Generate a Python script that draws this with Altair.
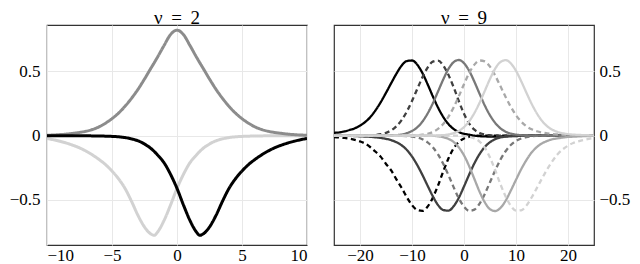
import altair as alt
import pandas as pd

# ---------------- left panel (nu = 2) ----------------
X_LEFT = [-10, -9.5, -9, -8.5, -8, -7.5, -7, -6.5, -6, -5.5, -5, -4.5, -4, -3.5, -3, -2.5, -2,
          -1.75, -1.5, -1, -0.5, 0, 0.5, 1, 1.5, 1.75,
          2, 2.5, 3, 3.5, 4, 4.5, 5, 5.5, 6, 6.5, 7, 7.5, 8, 8.5, 9, 9.5, 10]

LEFT_LIGHT = [-0.022, -0.032, -0.044, -0.058, -0.075, -0.095, -0.12, -0.15, -0.185, -0.225, -0.275,
              -0.335, -0.41, -0.51, -0.62, -0.71, -0.765, -0.775, -0.75, -0.66, -0.54, -0.41, -0.30,
              -0.21, -0.15, -0.123, -0.10, -0.065, -0.04, -0.025, -0.015, -0.009, -0.006, -0.004,
              -0.003, -0.002, -0.001, -0.001, 0.0, 0.0, 0.0, 0.0, 0.0]
LEFT_GRAY = [0.003, 0.005, 0.008, 0.012, 0.018, 0.025, 0.034, 0.048, 0.068, 0.097, 0.132, 0.175,
             0.228, 0.29, 0.36, 0.44, 0.525, 0.567, 0.61, 0.70, 0.785, 0.82, 0.785, 0.70, 0.61,
             0.567, 0.525, 0.44, 0.36, 0.29, 0.228, 0.175, 0.132, 0.097, 0.068, 0.048, 0.034,
             0.025, 0.018, 0.012, 0.008, 0.005, 0.003]
LEFT_BLACK = [0.0, 0.0, 0.0, 0.0, 0.0, -0.001, -0.001, -0.002, -0.003, -0.004, -0.006, -0.009,
              -0.015, -0.025, -0.04, -0.065, -0.10, -0.123, -0.15, -0.21, -0.30, -0.41, -0.54,
              -0.66, -0.75, -0.775, -0.765, -0.71, -0.62, -0.51, -0.41, -0.335, -0.275, -0.225,
              -0.185, -0.15, -0.12, -0.095, -0.075, -0.058, -0.044, -0.032, -0.022]

LEFT_SERIES = [LEFT_LIGHT, LEFT_GRAY, LEFT_BLACK]
LEFT_COLORS = ["#d2d2d2", "#8c8c8c", "#000000"]
LEFT_STYLES = ["solid", "solid", "solid"]

# ---------------- right panel (nu = 9) ----------------
X_RIGHT = list(range(-25, 26))

R_K_POS = [0.022, 0.025, 0.033, 0.044, 0.057, 0.078, 0.106, 0.145, 0.198, 0.261, 0.333, 0.408,
           0.481, 0.544, 0.580, 0.584, 0.552, 0.487, 0.400, 0.306, 0.219, 0.146, 0.090, 0.052,
           0.028, 0.014, 0.007, 0.0, -0.004, -0.006, -0.007, -0.007, -0.006, -0.005, -0.004,
           -0.003, -0.002, -0.002, -0.001, 0, 0, 0, 0, 0, 0, 0, 0, 0, 0, 0, 0]
R_K_NEG = [-0.011, -0.014, -0.018, -0.024, -0.033, -0.045, -0.062, -0.09, -0.125, -0.165, -0.22,
           -0.27, -0.34, -0.405, -0.478, -0.54, -0.578, -0.585, -0.552, -0.482, -0.388, -0.279,
           -0.178, -0.099, -0.049, -0.022, -0.009, -0.004, -0.001,
           0, 0, 0, 0, 0, 0, 0, 0, 0, 0, 0, 0, 0, 0, 0, 0, 0, 0, 0, 0, 0, 0]
R_D_POS = [0, 0, 0, 0, 0, 0, 0.001, 0.002, 0.005, 0.011, 0.022, 0.041, 0.073, 0.121, 0.187, 0.270,
           0.362, 0.453, 0.529, 0.575, 0.583, 0.546, 0.473, 0.377, 0.269, 0.170, 0.094, 0.046,
           0.021, 0.008, 0.003, 0, 0, 0, 0, 0, 0, 0, 0, 0, 0, 0, 0, 0, 0, 0, 0, 0, 0, 0, 0]
R_D_NEG = [0, -0.001, -0.002, -0.002, -0.003, -0.005, -0.007, -0.009, -0.013, -0.018, -0.025,
           -0.035, -0.051, -0.075, -0.111, -0.162, -0.228, -0.305, -0.389, -0.471, -0.539, -0.578,
           -0.583, -0.549, -0.483, -0.395, -0.302, -0.215, -0.143, -0.088, -0.051, -0.027, -0.014,
           -0.007, -0.003, -0.001, 0, 0, 0, 0, 0, 0, 0, 0, 0, 0, 0, 0, 0, 0, 0]
R_G_POS = [0, 0, 0, 0, 0, 0, 0, 0, 0, 0, 0.0, 0.002, 0.004, 0.008, 0.019, 0.036, 0.064, 0.109,
           0.172, 0.251, 0.343, 0.436, 0.518, 0.571, 0.588, 0.563, 0.504, 0.419, 0.325, 0.234,
           0.158, 0.099, 0.057, 0.031, 0.016, 0.008, 0.003, 0.001,
           0, 0, 0, 0, 0, 0, 0, 0, 0, 0, 0, 0, 0]
R_G_NEG = [0, 0, 0, 0, 0, 0, 0, 0, 0, 0, 0, 0, 0, -0.001, -0.003, -0.007, -0.014, -0.028, -0.052,
           -0.090, -0.146, -0.219, -0.306, -0.400, -0.487, -0.552, -0.584, -0.575, -0.529, -0.453,
           -0.362, -0.270, -0.187, -0.121, -0.073, -0.041, -0.022, -0.011, -0.005, -0.002, 0.0,
           0, 0, 0, 0, 0, 0, 0, 0, 0, 0]
R_L_POS = [0, 0, 0, 0, 0, 0, 0, 0, 0, 0, 0, 0, 0, 0, 0, 0.001, 0.003, 0.007, 0.014, 0.028, 0.052,
           0.090, 0.146, 0.219, 0.306, 0.400, 0.487, 0.552, 0.584, 0.577, 0.536, 0.467, 0.385,
           0.301, 0.224, 0.159, 0.109, 0.073, 0.050, 0.034, 0.024, 0.018, 0.013, 0.009, 0.007,
           0.005, 0.003, 0.002, 0.001, 0.001, 0.0]
R_L_NEG = [0, 0, 0, 0, 0, 0, 0, 0, 0, 0, 0, 0, 0, 0, 0, 0, 0, 0, 0, -0.001, -0.005, -0.012,
           -0.025, -0.049, -0.091, -0.153, -0.238, -0.337, -0.436, -0.518, -0.572, -0.586, -0.562,
           -0.506, -0.427, -0.343, -0.261, -0.190, -0.131, -0.089, -0.060, -0.041, -0.028, -0.021,
           -0.015, -0.010, -0.008, -0.006, -0.004, -0.003, -0.002]
R_W_POS = [0, 0, 0, 0, 0, 0, 0, 0, 0, 0, 0, 0, 0, 0, 0, 0, 0, 0, 0, 0, 0.002, 0.004, 0.009, 0.019,
           0.037, 0.066, 0.112, 0.176, 0.256, 0.348, 0.441, 0.521, 0.572, 0.587, 0.562, 0.504,
           0.423, 0.334, 0.248, 0.174, 0.115, 0.073, 0.046, 0.029, 0.018, 0.012, 0.008, 0.006,
           0.004, 0.003, 0.002]
R_W_NEG = [0, 0, 0, 0, 0, 0, 0, 0, 0, 0, 0, 0, 0, 0, 0, 0, 0, 0, 0, 0, 0, 0, 0, 0, 0, -0.003,
           -0.008, -0.021, -0.046, -0.094, -0.170, -0.269, -0.377, -0.473, -0.546, -0.583, -0.580,
           -0.544, -0.481, -0.408, -0.333, -0.261, -0.198, -0.145, -0.106, -0.078, -0.057, -0.044,
           -0.033, -0.025, -0.019]

RIGHT_SERIES = [R_K_POS, R_K_NEG, R_D_POS, R_D_NEG, R_G_POS, R_G_NEG, R_L_POS, R_L_NEG, R_W_POS, R_W_NEG]
RIGHT_COLORS = ["#000000", "#000000", "#404040", "#404040", "#787878", "#787878",
                "#a8a8a8", "#a8a8a8", "#d2d2d2", "#d2d2d2"]
RIGHT_STYLES = ["solid", "dashed", "dashed", "solid", "solid", "dashed", "dashed", "solid", "solid", "dashed"]

Y_DOMAIN = [-0.85, 0.86]
Y_TICKS = [-0.5, 0, 0.5]
FONT = "Liberation Serif"
LABEL_EXPR = "datum.value < 0 ? '\u2212' + format(-datum.value, '') : format(datum.value, '')"
DASH = {"solid": [1, 0], "dashed": [5, 3.5]}


def panel(xs, series, colors, styles, xdom, xticks, yorient, title, sw, ypad):
    layers = []
    for ys, col, sty in zip(series, colors, styles):
        df = pd.DataFrame({"x": xs, "y": ys})
        layers.append(
            alt.Chart(df).mark_line(
                strokeWidth=sw, interpolate="monotone", clip=True,
                color=col, strokeDash=DASH[sty],
            ).encode(
                x=alt.X("x:Q",
                        scale=alt.Scale(domain=xdom, nice=False, zero=False),
                        axis=alt.Axis(values=xticks, title=None, labelExpr=LABEL_EXPR,
                                      labelFont=FONT, labelPadding=2)),
                y=alt.Y("y:Q",
                        scale=alt.Scale(domain=Y_DOMAIN, nice=False, zero=False),
                        axis=alt.Axis(values=Y_TICKS, title=None, orient=yorient,
                                      labelExpr=LABEL_EXPR, labelFont=FONT, labelPadding=ypad)),
            )
        )
    return alt.layer(*layers).properties(
        width=260, height=220,
        title=alt.Title(title, font=FONT, fontSize=19, fontWeight="normal", color="#000000",
                        anchor="middle", offset=-3),
    )


left = panel(X_LEFT, LEFT_SERIES, LEFT_COLORS, LEFT_STYLES,
             [-10, 10], [-10, -5, 0, 5, 10], "left", "\u03bd \u2009= \u20092", 3, 7)
right = panel(X_RIGHT, RIGHT_SERIES, RIGHT_COLORS, RIGHT_STYLES,
              [-25, 25], [-20, -10, 0, 10, 20], "right", "\u03bd \u2009= \u20099", 2.3, 5)

chart = alt.hconcat(left, right, spacing=27, bounds="flush").properties(
    padding={"left": 0, "top": 0, "right": 0, "bottom": 0}
).configure_view(
    stroke="#333333", strokeWidth=1.2
).configure_axis(
    grid=True, gridColor="#e8e8e8", gridWidth=1, ticks=False, domain=False,
    labelFont=FONT, labelFontSize=17, labelColor="#000000",
)

chart.save("out.html", embed_options={"renderer": "svg", "actions": False})
